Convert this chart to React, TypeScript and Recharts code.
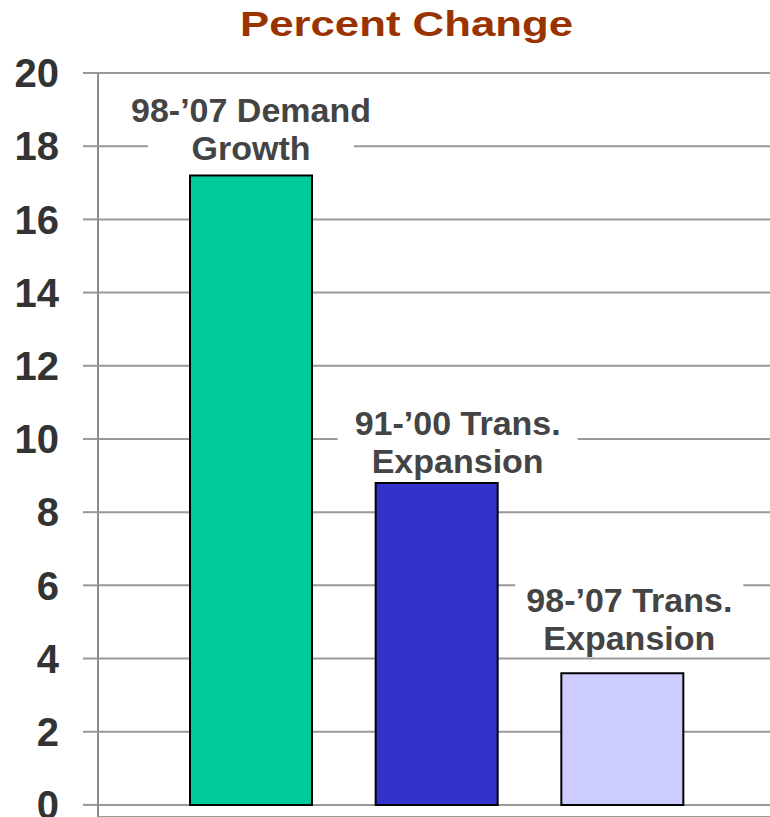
import React from 'react';
import { BarChart, Bar, XAxis, YAxis, CartesianGrid, Cell, LabelList } from 'recharts';

const categories = ["98-'07 Demand Growth", "91-'00 Trans. Expansion", "98-'07 Trans. Expansion"];
const labelLine1 = ["98-\u201907 Demand", "91-\u201900 Trans.", "98-\u201907 Trans."];
const labelLine2 = ['Growth', 'Expansion', 'Expansion'];
const percentChange = [17.2, 8.8, 3.6];
const yTicks = [0, 2, 4, 6, 8, 10, 12, 14, 16, 18, 20];

const barColors = ['#00CC99', '#3333CC', '#CCCCFF'];
// hand placed text boxes in the original slide
const labelNudge = [
  { dx: 0, dy: -15, boxW: 206 },
  { dx: 21, dy: -10, boxW: 240 },
  { dx: 7, dy: -23, boxW: 228 },
];

const chartData = categories.map((c, i) => ({
  name: c,
  value: percentChange[i],
  label: c,
}));

const W = 770;
const H = 817;
const FONT = "'Liberation Sans', Arial, sans-serif";

function BarLabel(props: any) {
  const { x, y, width, value } = props;
  const i = categories.indexOf(value);
  if (i < 0) return null;
  const n = labelNudge[i];
  const cx = Number(x) + Number(width) / 2 + n.dx;
  const base2 = Number(y) + n.dy;
  const base1 = base2 - 38;
  return (
    <g>
      <rect x={cx - n.boxW / 2} y={base1 - 30} width={n.boxW} height={base2 - base1 + 35} fill="#fff" />
      <text x={cx} y={base1} textAnchor="middle" fontSize={34} fontWeight="bold" fill="#444444" fontFamily={FONT}>
        {labelLine1[i]}
      </text>
      <text x={cx} y={base2} textAnchor="middle" fontSize={34} fontWeight="bold" fill="#444444" fontFamily={FONT}>
        {labelLine2[i]}
      </text>
    </g>
  );
}

export default function App() {
  return (
    <div style={{ position: 'absolute', left: 0, top: 0, width: W, height: H, background: '#fff' }}>
      <svg width={W} height={60} style={{ position: 'absolute', left: 0, top: 0 }}>
        <text
          x={0}
          y={36}
          textAnchor="middle"
          fontSize={35}
          fontWeight="bold"
          fill="#993300"
          fontFamily={FONT}
          transform="translate(406.5,0) scale(1.25,1)"
        >
          Percent Change
        </text>
      </svg>
      <div style={{ position: 'absolute', left: 0, top: 0 }}>
        <BarChart width={W} height={H} data={chartData} margin={{ top: 73, right: 0, bottom: 0, left: 0 }}>
          <CartesianGrid vertical={false} stroke="#999999" strokeWidth={2} />
          <XAxis dataKey="name" hide padding={{ left: 60, right: 55 }} />
          <YAxis
            width={98}
            domain={[-0.33, 20]}
            ticks={yTicks}
            interval={0}
            tickSize={15}
            tickMargin={24}
            axisLine={{ stroke: '#8c8c8c', strokeWidth: 2 }}
            tickLine={{ stroke: '#999999', strokeWidth: 2 }}
            tick={{ fontSize: 40, fontWeight: 'bold', fill: '#333333', fontFamily: FONT }}
          />
          <Bar dataKey="value" barSize={122} stroke="#000" strokeWidth={2} isAnimationActive={false}>
            {chartData.map((d, i) => (
              <Cell key={d.name} fill={barColors[i]} />
            ))}
            <LabelList dataKey="label" content={BarLabel} />
          </Bar>
        </BarChart>
      </div>
    </div>
  );
}
